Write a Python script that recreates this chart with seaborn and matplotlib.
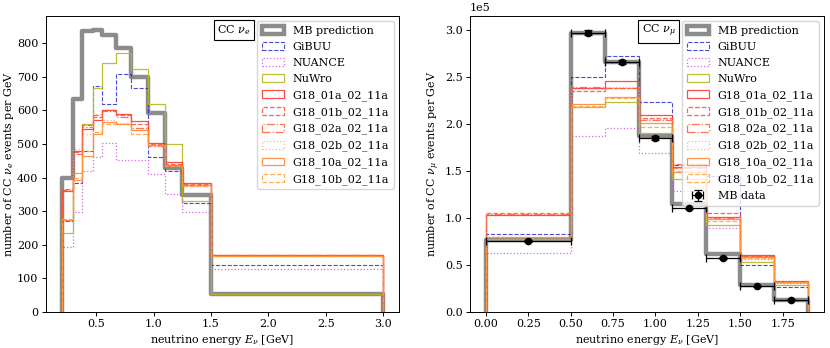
import numpy as np
import pandas as pd
import matplotlib
matplotlib.use("Agg")
import matplotlib.pyplot as plt
import seaborn as sns
from matplotlib.patches import Patch

# ---- nu_e panel ----
nue_edges = [0.2, 0.3, 0.375, 0.475, 0.55, 0.675, 0.8, 0.95, 1.1, 1.25, 1.5, 3.0]
nue_mb = [400, 633, 835, 840, 825, 787, 700, 592, 427, 348, 52]
nue_gibuu = [270, 383, 480, 672, 618, 707, 668, 460, 418, 325, 138]
nue_nuance = [193, 298, 420, 462, 503, 452, 453, 410, 350, 298, 127]
nue_nuwro = [235, 413, 558, 668, 740, 772, 722, 620, 500, 330, 52]
nue_g18_01a = [360, 478, 545, 572, 602, 590, 567, 502, 445, 383, 168]
nue_g18_01b = [365, 475, 555, 580, 600, 585, 558, 500, 440, 380, 168]
nue_g18_02a = [362, 470, 550, 585, 598, 580, 548, 495, 435, 378, 168]
nue_g18_02b = [272, 485, 530, 590, 570, 562, 540, 495, 437, 375, 167]
nue_g18_10a = [272, 393, 465, 530, 565, 558, 540, 498, 438, 377, 166]
nue_g18_10b = [275, 400, 480, 535, 560, 560, 530, 497, 435, 375, 166]

# ---- nu_mu panel ----
numu_edges = [0.0, 0.5, 0.7, 0.9, 1.1, 1.3, 1.5, 1.7, 1.9]
numu_mb = [77000, 297000, 266000, 187000, 115000, 62000, 29000, 13000]
numu_gibuu = [82500, 250000, 273000, 224000, 156000, 145000, 50000, 26000]
numu_nuance = [63000, 187000, 195500, 169000, 129000, 89000, 56700, 30800]
numu_nuwro = [78000, 218000, 224000, 190500, 142000, 93000, 53000, 28300]
numu_g18_01a = [103500, 238000, 245500, 210000, 154800, 101000, 60500, 32600]
numu_g18_01b = [105000, 235000, 238000, 207000, 157500, 105000, 59000, 32000]
numu_g18_02a = [104000, 240000, 238000, 204000, 153000, 100000, 59000, 32000]
numu_g18_02b = [105000, 237000, 240000, 205000, 153000, 100000, 58000, 31000]
numu_g18_10a = [80000, 221000, 229000, 201000, 149000, 99000, 58000, 32000]
numu_g18_10b = [80000, 219000, 228000, 197000, 150000, 97000, 57000, 32000]

numu_data_x = [0.25, 0.6, 0.8, 1.0, 1.2, 1.4, 1.6, 1.8]
numu_data_y = [75500, 297500, 266000, 185000, 111000, 57700, 27300, 13100]
numu_data_xerr = [0.25, 0.1, 0.1, 0.1, 0.1, 0.1, 0.1, 0.1]
numu_data_yerr = [1500, 3000, 2500, 2000, 1500, 1000, 700, 500]

labels = ["MB prediction", "GiBUU", "NUANCE", "NuWro",
          "G18_01a_02_11a", "G18_01b_02_11a", "G18_02a_02_11a",
          "G18_02b_02_11a", "G18_10a_02_11a", "G18_10b_02_11a"]

# style per series: (color, linestyle, linewidth, alpha)
styles = [
    ("#808080", "-", 3.2, 0.9),
    ("#2a2acc", "--", 0.8, 0.85),
    ("#cc44dd", ":", 0.9, 0.8),
    ("#b8b820", "-", 0.9, 0.9),
    ("#ff2a2a", "-", 0.9, 0.85),
    ("#ff4a30", "--", 0.9, 0.85),
    ("#ff5a33", "-.", 0.9, 0.85),
    ("#ffa080", ":", 0.9, 0.85),
    ("#ff8030", "-", 0.9, 0.85),
    ("#ffa030", "--", 0.9, 0.85),
]

sns.set_style("ticks", rc={"axes.edgecolor": "black", "text.color": "black",
                           "axes.labelcolor": "black", "xtick.color": "black",
                           "ytick.color": "black", "xtick.direction": "out",
                           "ytick.direction": "out"})
plt.rcParams["font.family"] = ["DejaVu Serif"]
plt.rcParams["mathtext.fontset"] = "dejavuserif"
plt.rcParams["font.size"] = 8
plt.rcParams["legend.fontsize"] = 8
plt.rcParams["legend.labelspacing"] = 0.55
for a in ("xtick", "ytick"):
    plt.rcParams[a + ".major.size"] = 2.8
    plt.rcParams[a + ".major.pad"] = 2.4
    plt.rcParams[a + ".major.width"] = 0.7
plt.rcParams["axes.linewidth"] = 0.7


def step_frame(edges, vals):
    # outline of a histogram, dropping to zero on both ends
    x = [edges[0]] + list(edges)
    y = [0] + list(vals) + [0]
    return pd.DataFrame({"x": x, "y": y})


def draw_panel(ax, edges, series):
    handles = []
    for vals, lab, (c, ls, lw, a) in zip(series, labels, styles):
        df = step_frame(edges, vals)
        sns.lineplot(data=df, x="x", y="y", ax=ax, estimator=None, sort=False,
                     drawstyle="steps-post", color=c, linestyle=ls,
                     linewidth=lw, alpha=a)
        handles.append(Patch(facecolor="none", edgecolor=c, linestyle=ls,
                             linewidth=lw, alpha=a, label=lab))
    return handles


fig = plt.figure(figsize=(8.3, 3.48), dpi=100)
ax1 = fig.add_axes([0.055, 0.104, 0.426, 0.851])
ax2 = fig.add_axes([0.566, 0.104, 0.427, 0.851])

h1 = draw_panel(ax1, nue_edges, [nue_mb, nue_gibuu, nue_nuance, nue_nuwro,
                                 nue_g18_01a, nue_g18_01b, nue_g18_02a,
                                 nue_g18_02b, nue_g18_10a, nue_g18_10b])
ax1.set_ylim(bottom=0)
ax1.set_xlabel(r"neutrino energy $E_\nu$ [GeV]", labelpad=2.5)
ax1.set_ylabel(r"number of CC $\nu_e$ events per GeV", labelpad=0.5)
ax1.legend(handles=h1, loc="upper right")
ax1.text(0.485, 0.975, r"CC $\nu_e$", transform=ax1.transAxes, va="top",
         ha="left", fontsize=8,
         bbox=dict(boxstyle="square,pad=0.3", fc="white", ec="black", lw=0.8))

h2 = draw_panel(ax2, numu_edges, [numu_mb, numu_gibuu, numu_nuance, numu_nuwro,
                                  numu_g18_01a, numu_g18_01b, numu_g18_02a,
                                  numu_g18_02b, numu_g18_10a, numu_g18_10b])
eb = ax2.errorbar(numu_data_x, numu_data_y, xerr=numu_data_xerr, yerr=numu_data_yerr,
                  fmt="o", color="black", markersize=4.5, capsize=3, elinewidth=0.9,
                  capthick=0.9, zorder=5)
ax2.set_ylim(bottom=0)
ax2.ticklabel_format(axis="y", style="sci", scilimits=(0, 0))
ax2.set_xlabel(r"neutrino energy $E_\nu$ [GeV]", labelpad=2.5)
ax2.set_ylabel(r"number of CC $\nu_\mu$ events per GeV", labelpad=2)
ax2.legend(handles=h2 + [eb], labels=labels + ["MB data"], loc="upper right")
ax2.text(0.485, 0.975, r"CC $\nu_\mu$", transform=ax2.transAxes, va="top",
         ha="left", fontsize=8,
         bbox=dict(boxstyle="square,pad=0.3", fc="white", ec="black", lw=0.8))

fig.savefig("out.png", dpi=100)
